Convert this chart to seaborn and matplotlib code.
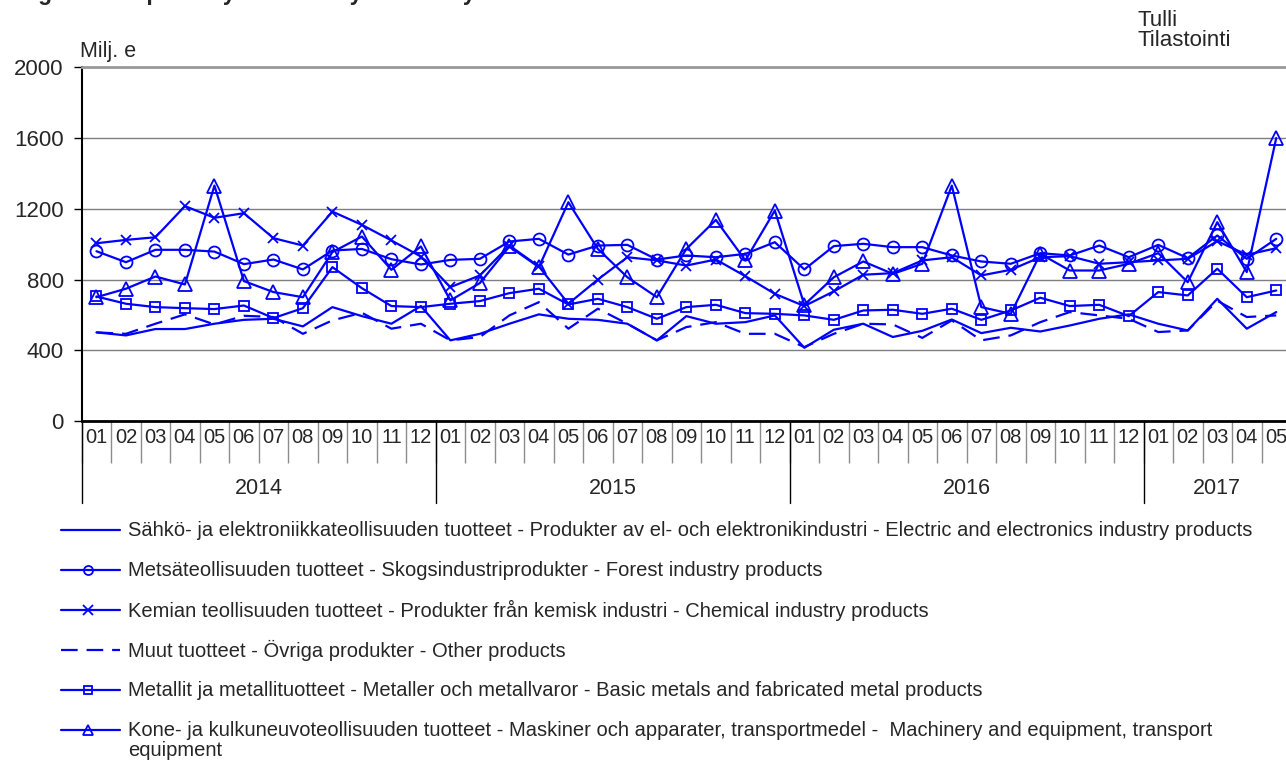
import matplotlib
matplotlib.use('Agg')
import matplotlib.pyplot as plt
from matplotlib.lines import Line2D
from matplotlib import transforms
import seaborn as sns
import numpy as np

# data, monthly values, Milj. e
years = ['2014', '2015', '2016', '2017']
months_per_year = [12, 12, 12, 5]

electric = [501, 484, 520, 520, 550, 572, 578, 535, 644, 593, 550, 650,
            456, 493, 550, 603, 578, 572, 550, 456, 593, 550, 559, 597,
            414, 516, 550, 475, 510, 574, 497, 527, 506, 540, 578, 603,
            550, 512, 691, 522, 616]
forest = [960, 898, 968, 968, 958, 887, 913, 857, 964, 973, 915, 885,
          911, 917, 1015, 1030, 941, 992, 996, 913, 936, 926, 945, 1011,
          857, 989, 1002, 983, 983, 936, 902, 889, 949, 936, 992, 926,
          996, 921, 1049, 917, 1030]
chemical = [1005, 1024, 1039, 1215, 1149, 1175, 1034, 992, 1184, 1109, 1021, 930,
            757, 823, 992, 874, 663, 800, 926, 908, 879, 913, 819, 719,
            650, 733, 827, 836, 908, 926, 823, 855, 926, 932, 889, 898,
            908, 917, 1017, 940, 977]
other = [501, 493, 550, 603, 546, 595, 588, 493, 569, 612, 522, 550,
         456, 475, 597, 672, 522, 635, 550, 456, 531, 559, 493, 493,
         418, 493, 550, 546, 470, 569, 456, 484, 559, 616, 597, 578,
         503, 512, 680, 588, 597]
metals = [704, 663, 644, 638, 633, 653, 582, 638, 870, 751, 650, 644,
          663, 678, 723, 748, 659, 691, 644, 578, 644, 657, 610, 606,
          597, 572, 625, 629, 606, 635, 572, 625, 697, 650, 657, 593,
          729, 710, 861, 700, 738]
machinery = [700, 748, 817, 772, 1331, 791, 729, 700, 955, 1043, 855, 987,
             682, 780, 987, 870, 1237, 973, 813, 700, 973, 1137, 908, 1190,
             657, 813, 902, 832, 889, 1331, 644, 606, 945, 851, 851, 889,
             949, 785, 1124, 842, 1600]

labels = [
    'Sähkö- ja elektroniikkateollisuuden tuotteet - Produkter av el- och elektronikindustri - Electric and electronics industry products',
    'Metsäteollisuuden tuotteet - Skogsindustriprodukter - Forest industry products',
    'Kemian teollisuuden tuotteet - Produkter från kemisk industri - Chemical industry products',
    'Muut tuotteet - Övriga produkter - Other products',
    'Metallit ja metallituotteet - Metaller och metallvaror - Basic metals and fabricated metal products',
    'Kone- ja kulkuneuvoteollisuuden tuotteet - Maskiner och apparater, transportmedel -  Machinery and equipment, transport\nequipment',
]

BLUE = '#0000ff'
W, H = 1286, 765

sns.set_style('white')
plt.rcParams['font.family'] = ['Liberation Sans', 'DejaVu Sans']

series = [electric, forest, chemical, other, metals, machinery]
# marker, plot marker size, legend marker size, linestyle
styles = [
    (None, 0, 0, '-'),
    ('o', 8.6, 6.5, '-'),
    ('x', 7.2, 6.5, '-'),
    (None, 0, 0, (0, (7.5, 4))),
    ('s', 7.2, 5.8, '-'),
    ('^', 9.6, 6.5, '-'),
]

month_labels = []
for n in months_per_year:
    month_labels += ['%02d' % (m + 1) for m in range(n)]
x = np.arange(len(month_labels))

fig = plt.figure(figsize=(W / 100, H / 100), dpi=100)
ax = fig.add_axes([81.7 / W, 1 - 421 / H, (1291 - 81.7) / W, (421 - 67.3) / H])

for vals, (mk, ms, _, ls) in zip(series, styles):
    sns.lineplot(x=x, y=vals, ax=ax, color=BLUE, lw=1.6, linestyle=ls,
                 marker=mk, markersize=ms, markerfacecolor='none',
                 markeredgecolor=BLUE, markeredgewidth=1.3, legend=False)

ax.set_xlim(-0.5, len(x) - 0.5)
ax.set_ylim(0, 2000)
ax.set_yticks(range(0, 2001, 400))
ax.yaxis.grid(True, color='#7f7f7f', lw=1)
ax.xaxis.grid(False)
ax.set_xlabel('')
ax.set_ylabel('')
ax.spines['right'].set_visible(False)
ax.spines['top'].set_color('#9a9a9a')
ax.spines['top'].set_linewidth(2)
ax.spines['left'].set_color('black')
ax.spines['left'].set_linewidth(1.5)
ax.spines['bottom'].set_color('black')
ax.spines['bottom'].set_linewidth(2)

ax.tick_params(axis='y', left=True, length=6, width=1, color='black', pad=7,
               labelsize=16, direction='out')
ax.set_xticks(x)
ax.set_xticklabels(month_labels, fontsize=14.5)
ax.set_xticks(np.arange(-0.5, len(x), 1), minor=True)
ax.tick_params(axis='x', which='major', length=0, pad=5)
ax.tick_params(axis='x', which='minor', bottom=True, length=30, width=1,
               color='#8c8c8c', direction='out')

# year level of the category axis
blend = transforms.blended_transform_factory(ax.transData, ax.transAxes)
start = 0
for yr, n in zip(years, months_per_year):
    ax.plot([start - 0.5, start - 0.5], [0, -0.232], transform=blend,
            color='black', lw=1, clip_on=False)
    ax.text(start + (n - 1) / 2, -0.19, yr, transform=blend, ha='center',
            va='center', fontsize=15.5)
    start += n

# texts around the plot (title is cut off at the top edge, as in the source)
fig.text(18 / W, 1.0, 'Figure 3. Exports by commodity \u2013 monthly', fontsize=16.3,
         fontweight='bold', va='baseline')
fig.text(80 / W, 1 - 57 / H, 'Milj. e', fontsize=15.5, va='baseline')
fig.text(1138 / W, 1 - 26 / H, 'Tulli', fontsize=16, va='baseline')
fig.text(1138 / W, 1 - 46 / H, 'Tilastointi', fontsize=16, va='baseline')

# legend, one row per series
row_y = [530, 570, 610, 650, 690, 730]
for yy, lab, (mk, _, lms, ls) in zip(row_y, labels, styles):
    line = Line2D([61 / W, 88 / W, 120 / W], [1 - yy / H] * 3,
                  transform=fig.transFigure, color=BLUE, lw=1.6, linestyle=ls,
                  marker=mk, markersize=lms, markevery=[1],
                  markerfacecolor='none', markeredgecolor=BLUE,
                  markeredgewidth=1.3)
    fig.add_artist(line)
    first, *rest = lab.split('\n')
    fig.text(128 / W, 1 - yy / H, first, fontsize=14.5, va='center')
    for k, extra in enumerate(rest):
        fig.text(128 / W, 1 - (yy + 20 * (k + 1)) / H, extra, fontsize=14.5,
                 va='center')

fig.savefig('out.png', dpi=100)
